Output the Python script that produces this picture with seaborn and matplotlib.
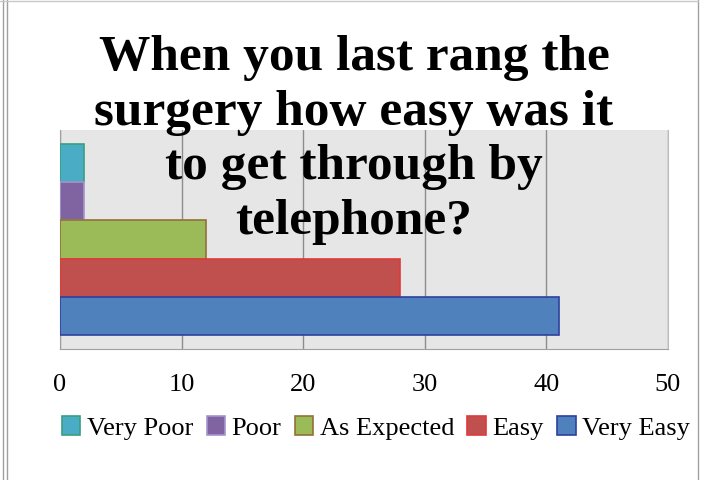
import matplotlib
matplotlib.use('Agg')
import matplotlib.pyplot as plt
import seaborn as sns
import pandas as pd
from matplotlib.lines import Line2D
from matplotlib.patches import Patch

# dados
respostas = ['Very Poor', 'Poor', 'As Expected', 'Easy', 'Very Easy']
contagens = [2, 2, 12, 28, 41]
cores = ['#4BACC6', '#8064A2', '#9BBB59', '#C0504D', '#4F81BD']
bordas = ['#3A9E80', '#A595CC', '#93703A', '#E03A3A', '#3040A0']
ticks_x = [0, 10, 20, 30, 40, 50]

df = pd.DataFrame({'Resposta': respostas, 'Contagem': contagens, 'Grupo': [''] * len(respostas)})

sns.set_style('white')
plt.rcParams['font.family'] = ['Liberation Serif', 'DejaVu Serif']
plt.rcParams['text.color'] = 'black'
plt.rcParams['xtick.color'] = 'black'
plt.rcParams['xtick.labelcolor'] = 'black'

fig = plt.figure(figsize=(7.03, 4.80), dpi=100)
ax = fig.add_axes([60 / 703, 131 / 480, 608 / 703, 219 / 480])

sns.barplot(data=df, x='Contagem', y='Grupo', hue='Resposta', hue_order=respostas,
            palette=cores, orient='h', width=0.8, saturation=1, ax=ax, zorder=3)

for cont, borda in zip(ax.containers, bordas):
    for barra in cont:
        barra.set_edgecolor(borda)
        barra.set_linewidth(1.2)

ax.set_facecolor('#E6E6E6')
ax.set_xlim(0, 50)
ax.set_ylim(0.458, -0.458)
ax.set_xticks(ticks_x)
ax.set_yticks([])
ax.set_xlabel('')
ax.set_ylabel('')
ax.grid(axis='x', color='#8C8C8C', linewidth=1, zorder=1)
ax.set_axisbelow(True)
ax.tick_params(axis='x', length=0, pad=18, labelsize=19, labelcolor='black')
for lado in ['left', 'bottom']:
    ax.spines[lado].set_color('#A0A0A0')
ax.spines['right'].set_color('#BDBDBD')
ax.spines['top'].set_visible(False)

handles = [Patch(facecolor=c, edgecolor=b, linewidth=1.2) for c, b in zip(cores, bordas)]
ax.legend(handles, respostas, ncol=5, loc='center', bbox_to_anchor=(376 / 703, 1 - 428 / 480),
          bbox_transform=fig.transFigure, frameon=False, fontsize=19, labelcolor='black',
          handlelength=0.7, handleheight=0.7, handletextpad=0.25, columnspacing=0.5,
          borderaxespad=0)

fig.text(354 / 703, 1 - 140 / 480,
         'When you last rang the\nsurgery how easy was it\nto get through by\ntelephone?',
         ha='center', va='center', fontsize=37, fontweight='bold', linespacing=1.255,
         color='black', zorder=10)

# moldura da área do gráfico
fig.add_artist(Line2D([3 / 703, 3 / 703], [0, 1], color='#A0A0A0', lw=1))
fig.add_artist(Line2D([7 / 703, 7 / 703], [0, 1], color='#A0A0A0', lw=1))
fig.add_artist(Line2D([698 / 703, 698 / 703], [0, 1], color='#A0A0A0', lw=1))
fig.add_artist(Line2D([0, 698 / 703], [1 - 1 / 480, 1 - 1 / 480], color='#C8C8C8', lw=1))

plt.savefig('out.png', dpi=100)
